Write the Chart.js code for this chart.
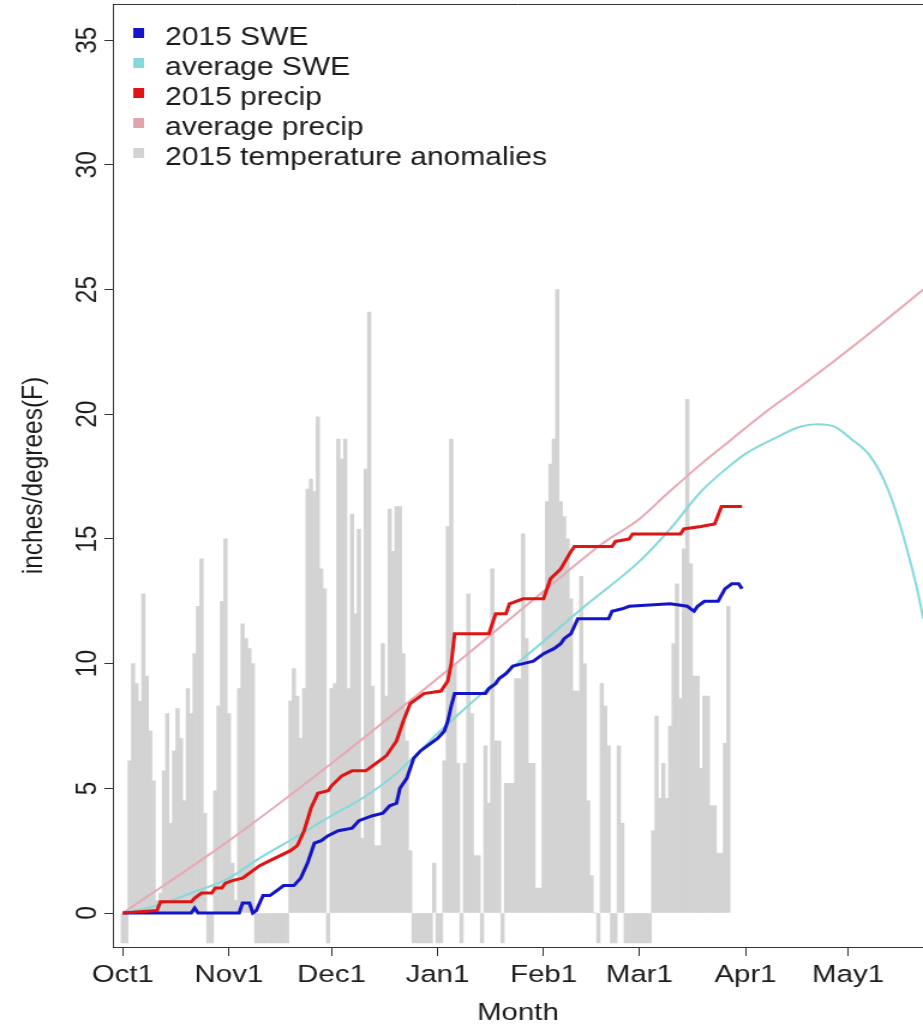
<!DOCTYPE html>
<html>
<head>
<meta charset="utf-8">
<title>2015 SWE and precipitation</title>
<script src="https://cdn.jsdelivr.net/npm/chart.js@4/dist/chart.umd.min.js"></script>
<style>
  html, body { margin: 0; padding: 0; background: #fff; }
  /* the original plot is stretched a little in x, so the canvas is drawn narrower and widened by css */
  #snowChart { width: 923px; height: 1028px; }
</style>
</head>
<body>
<canvas id="snowChart" width="769" height="1028" style="width:923px;height:1028px"></canvas>
<script>
// x axis is days since Oct 1
const monthDays = [0, 31, 61, 92, 123, 151, 182, 212];
const monthLabels = ['Oct1', 'Nov1', 'Dec1', 'Jan1', 'Feb1', 'Mar1', 'Apr1', 'May1'];
const yTicks = [0, 5, 10, 15, 20, 25, 30, 35];

// daily temperature anomalies, index 0 = Oct 1 (cut off at the bottom of the plot)
const tempAnomaly = [
  -1.2, -1.2, 6.1, 10.0, 9.2, 8.5, 12.8, 9.5, 7.3, 5.3,
  0.5, 0.8, 5.7, 8.0, 3.6, 6.5, 8.2, 7.0, 4.5, 9.0,
  8.0, 10.4, 12.3, 14.2, 4.0, -1.2, -1.2, 4.9, 8.3, 12.5,
  15.0, 8.0, 2.0, 0.5, 9.0, 11.6, 11.0, 10.6, 10.0, -1.2,
  -1.2, -1.2, -1.2, -1.2, -1.2, -1.2, -1.2, -1.2, -1.2, 8.5,
  9.8, 8.7, 7.0, 9.0, 17.0, 17.4, 16.9, 19.9, 13.8, 13.0,
  -1.2, 9.0, 9.2, 19.0, 18.2, 19.0, 9.0, 16.0, 12.0, 15.4,
  3.0, 17.8, 24.1, 9.1, 2.7, 2.7, 10.8, 8.7, 16.2, 14.5,
  16.3, 16.3, 10.4, 6.9, 2.5, -1.2, -1.2, -1.2, -1.2, -1.2,
  -1.2, 2.0, -1.2, -1.2, 6.1, 15.5, 19.0, 10.0, 6.0, -1.2,
  6.0, 12.8, 8.0, 2.3, 2.3, -1.2, 6.7, 4.4, 13.8, 6.9,
  6.9, -1.2, 5.2, 5.2, 5.2, 9.4, 9.4, 15.2, 11.0, 6.0,
  6.0, 1.0, 1.0, 12.8, 16.5, 18.0, 19.0, 25.0, 16.5, 15.9,
  15.0, 12.6, 8.9, 8.9, 13.5, 10.0, 4.5, 1.5, 0, -1.2,
  9.2, 8.3, 6.7, -1.2, -1.2, 6.7, 3.6, -1.2, -1.2, -1.2,
  -1.2, -1.2, -1.2, -1.2, -1.2, 3.3, 7.9, 4.6, 6.0, 4.6,
  7.5, 10.8, 13.2, 8.6, 14.6, 20.6, 14.0, 9.5, 9.5, 5.8,
  8.7, 8.7, 4.3, 4.3, 2.4, 2.4, 6.8, 12.3
];

const swe2015Days = [0, 20, 21, 22, 34, 35, 37, 38, 39, 40, 41, 43, 45, 47, 50, 52, 54, 56, 58, 60,
  63, 67, 69, 73, 76, 78, 80, 81, 83, 85, 87, 90, 92, 94, 95, 96, 97, 106, 107, 109,
  110, 112, 114, 117, 120, 123, 126, 128, 129, 131, 132, 133, 142, 143, 146, 148, 160, 165, 166, 167,
  168, 170, 174, 176, 178, 180, 181];
const swe2015Values = [0, 0, 0.2, 0, 0, 0.4, 0.4, 0, 0.1, 0.4, 0.7, 0.7, 0.9, 1.1, 1.1, 1.4, 2.0, 2.8, 2.9, 3.1,
  3.3, 3.4, 3.7, 3.9, 4.0, 4.3, 4.4, 5.0, 5.4, 6.2, 6.5, 6.8, 7.0, 7.3, 7.7, 8.3, 8.8, 8.8, 9.0, 9.2,
  9.4, 9.6, 9.9, 10.0, 10.1, 10.4, 10.6, 10.8, 11.0, 11.2, 11.5, 11.8, 11.8, 12.1, 12.2, 12.3, 12.4, 12.3, 12.2, 12.1,
  12.3, 12.5, 12.5, 13.0, 13.2, 13.2, 13.0];

const sweAvgDays = [0, 10, 20, 31, 40, 50, 61, 70, 80, 92, 100, 110, 123, 135, 151,
  160, 169, 178, 183, 190, 198, 203, 208, 213, 218, 222, 225, 229, 232, 234];
const sweAvgValues = [0, 0.3, 0.8, 1.4, 2.2, 3.0, 3.9, 4.6, 5.6, 7.2, 8.2, 9.4, 10.9, 12.3, 14.1,
  15.4, 16.9, 18.0, 18.5, 19.0, 19.5, 19.6, 19.5, 19.0, 18.4, 17.5, 16.5, 14.7, 13.1, 11.8];

const precip2015Days = [0, 10, 11, 20, 21, 23, 26, 27, 29, 30, 32, 35, 37, 40, 43, 46, 49, 51, 53, 55,
  57, 60, 61, 64, 67, 71, 74, 77, 80, 82, 84, 88, 93, 95, 96, 97, 107, 109, 112, 113,
  117, 123, 125, 128, 131, 132, 143, 144, 148, 149, 163, 164, 169, 173, 175, 181];
const precip2015Values = [0, 0.1, 0.45, 0.45, 0.6, 0.8, 0.8, 1.0, 1.0, 1.2, 1.3, 1.4, 1.6, 1.9, 2.1, 2.3, 2.5, 2.7, 3.3, 4.2,
  4.8, 4.9, 5.1, 5.5, 5.7, 5.7, 6.0, 6.3, 6.9, 7.7, 8.4, 8.8, 8.9, 9.3, 10.0, 11.2, 11.2, 12.0, 12.0, 12.4,
  12.6, 12.6, 13.4, 13.8, 14.5, 14.7, 14.7, 14.9, 15.0, 15.2, 15.2, 15.4, 15.5, 15.6, 16.3, 16.3];

const precipAvgDays = [0, 31, 61, 92, 123, 140, 151, 159, 169, 178, 188, 198, 216, 234];
const precipAvgValues = [0, 2.9, 6.0, 9.4, 12.9, 14.8, 15.8, 16.8, 18.0, 19.0, 20.1, 21.1, 23.0, 25.0];

const axisColor = '#333';
const textColor = '#1c1c1c';
const fontFamily = '"Liberation Sans", Arial, Helvetica, sans-serif';

function pairs(days, values) {
  return days.map((d, i) => ({ x: d, y: values[i] }));
}

// R-style box top edge plus the legend inside the plot
const boxLegend = {
  id: 'boxLegend',
  afterDraw(chart) {
    const { ctx, chartArea } = chart;
    ctx.save();
    ctx.strokeStyle = axisColor;
    ctx.lineWidth = 1;
    ctx.beginPath();
    ctx.moveTo(chartArea.left, chartArea.top + 0.5);
    ctx.lineTo(chartArea.right, chartArea.top + 0.5);
    ctx.stroke();

    ctx.font = '25px ' + fontFamily;
    ctx.textBaseline = 'alphabetic';
    ctx.textAlign = 'left';
    chart.data.datasets.forEach((ds, i) => {
      const y = chartArea.top + 29 + i * 30;
      ctx.fillStyle = ds.legendColor;
      ctx.fillRect(chartArea.left + 17, y - 5, 9, 10);
      ctx.fillStyle = textColor;
      ctx.fillText(ds.label, chartArea.left + 43.5, y + 12);
    });
    ctx.restore();
  }
};

Chart.defaults.font.family = fontFamily;
Chart.defaults.color = textColor;

new Chart(document.getElementById('snowChart').getContext('2d'), {
  type: 'line',
  data: {
    datasets: [
      {
        label: '2015 SWE',
        data: pairs(swe2015Days, swe2015Values),
        borderColor: '#1414c8',
        legendColor: '#1414c8',
        borderWidth: 3,
        pointRadius: 0,
        order: 2
      },
      {
        label: 'average SWE',
        data: pairs(sweAvgDays, sweAvgValues),
        borderColor: '#86d9da',
        legendColor: '#86d9da',
        borderWidth: 2,
        pointRadius: 0,
        cubicInterpolationMode: 'monotone',
        order: 3
      },
      {
        label: '2015 precip',
        data: pairs(precip2015Days, precip2015Values),
        borderColor: '#e01414',
        legendColor: '#e01414',
        borderWidth: 3,
        pointRadius: 0,
        order: 1
      },
      {
        label: 'average precip',
        data: pairs(precipAvgDays, precipAvgValues),
        borderColor: '#e8a9b3',
        legendColor: '#e2a3ae',
        borderWidth: 2,
        pointRadius: 0,
        cubicInterpolationMode: 'monotone',
        order: 4
      },
      {
        type: 'bar',
        label: '2015 temperature anomalies',
        data: tempAnomaly.map((v, d) => ({ x: d, y: v })),
        backgroundColor: '#d3d3d3',
        legendColor: '#d3d3d3',
        borderWidth: 0,
        barPercentage: 1,
        categoryPercentage: 1,
        order: 10
      }
    ]
  },
  options: {
    responsive: false,
    animation: false,
    events: [],
    layout: { padding: { top: 4, right: 0, bottom: 0, left: 0 } },
    plugins: {
      legend: { display: false },
      tooltip: { enabled: false }
    },
    scales: {
      x: {
        type: 'linear',
        min: -2.92,
        max: 233.9,
        offset: false,
        afterBuildTicks: (scale) => { scale.ticks = monthDays.map(v => ({ value: v })); },
        afterFit: (scale) => { scale.height = 81; },
        ticks: {
          autoSkip: false,
          maxRotation: 0,
          padding: 5,
          font: { size: 24.5 },
          callback: (value) => monthLabels[monthDays.indexOf(value)]
        },
        grid: { offset: false, drawOnChartArea: false, drawTicks: true, tickLength: 9, color: axisColor },
        border: { display: true, color: axisColor },
        title: { display: true, text: 'Month', font: { size: 24.5 }, padding: 0 }
      },
      y: {
        type: 'linear',
        min: -1.363,
        max: 36.45,
        afterBuildTicks: (scale) => { scale.ticks = yTicks.map(v => ({ value: v })); },
        afterFit: (scale) => {
          scale.width = 94;
          scale.paddingTop = 0;
          scale.paddingBottom = 0;
        },
        ticks: {
          minRotation: 90,
          maxRotation: 90,
          crossAlign: 'center',
          padding: 0,
          font: { size: 24.5 }
        },
        grid: { drawOnChartArea: false, drawTicks: true, tickLength: 7, color: axisColor },
        border: { display: true, color: axisColor },
        title: { display: true, text: 'inches/degrees(F)', font: { size: 24.5 }, padding: { top: 13.6, bottom: 0 } }
      }
    }
  },
  plugins: [boxLegend]
});
</script>
</body>
</html>
